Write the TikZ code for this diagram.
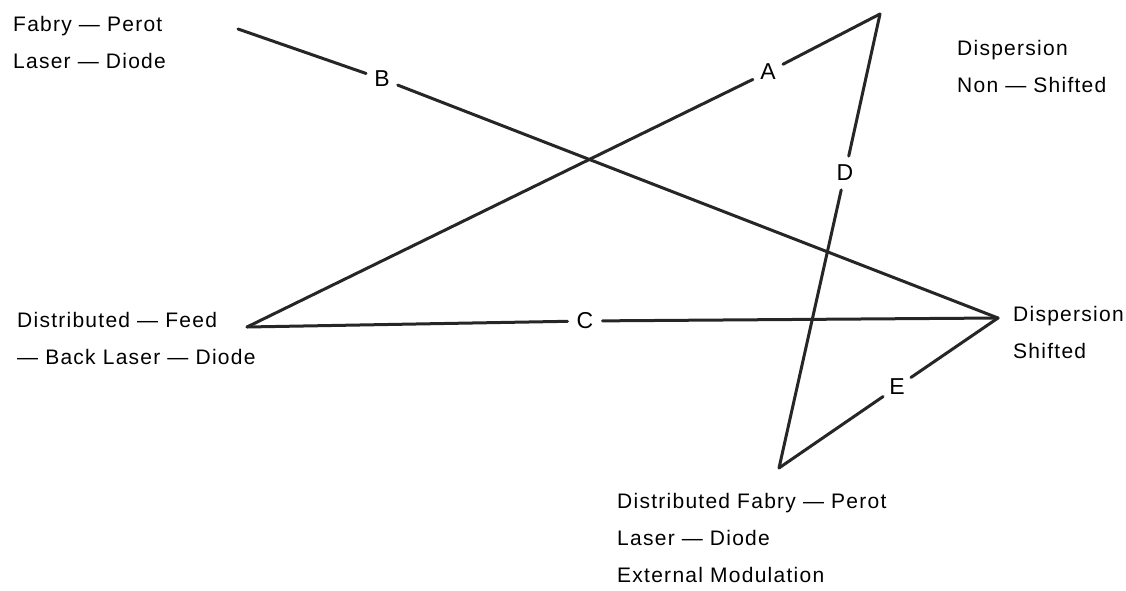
\documentclass[tikz,border=0pt]{standalone}
\usepackage{fontspec}
\setmainfont{Liberation Sans}[LetterSpace=6.0]

\begin{document}
\begin{tikzpicture}[
    x=1pt, y=-1pt,
    txt/.style={anchor=base west, align=left, inner sep=0pt, font=\fontsize{21}{37}\selectfont},
    lbl/.style={circle, inner sep=4pt, font=\fontsize{23}{37}\selectfont},
    link/.style={line width=3pt, line cap=round, black!85}
  ]
    \useasboundingbox (0,0) rectangle (1126,591);

    % end points
    \coordinate (fp)  at (238,29);
    \coordinate (top) at (880,14);
    \coordinate (dfb) at (247,327);
    \coordinate (ds)  at (998,318);
    \coordinate (dfp) at (779,468);

    % texts (anchored at the baseline of their last line)
    \node[txt] (fptxt)  at (13,69)   {Fabry --- Perot\\Laser --- Diode};
    \node[txt] (nstxt)  at (957,93)  {Dispersion\\Non --- Shifted};
    \node[txt] (dfbtxt) at (17,364)  {Distributed --- Feed\\--- Back Laser --- Diode};
    \node[txt] (dstxt)  at (1013,358) {Dispersion\\Shifted};
    \node[txt] (dfptxt) at (617,582) {Distributed Fabry --- Perot\\Laser --- Diode\\External Modulation};

    % line labels
    \node[lbl] (a) at (768,72)  {A};
    \node[lbl] (b) at (382,79)  {B};
    \node[lbl] (c) at (585,321) {C};
    \node[lbl] (d) at (845,173) {D};
    \node[lbl] (e) at (897,387) {E};

    \draw[link] (fp) -- (b) -- (ds);
    \draw[link] (dfb) -- (a) -- (top);
    \draw[link] (top) -- (d) -- (dfp);
    \draw[link] (dfb) -- (c) -- (ds);
    \draw[link] (dfp) -- (e) -- (ds);
  \end{tikzpicture}
\end{document}
